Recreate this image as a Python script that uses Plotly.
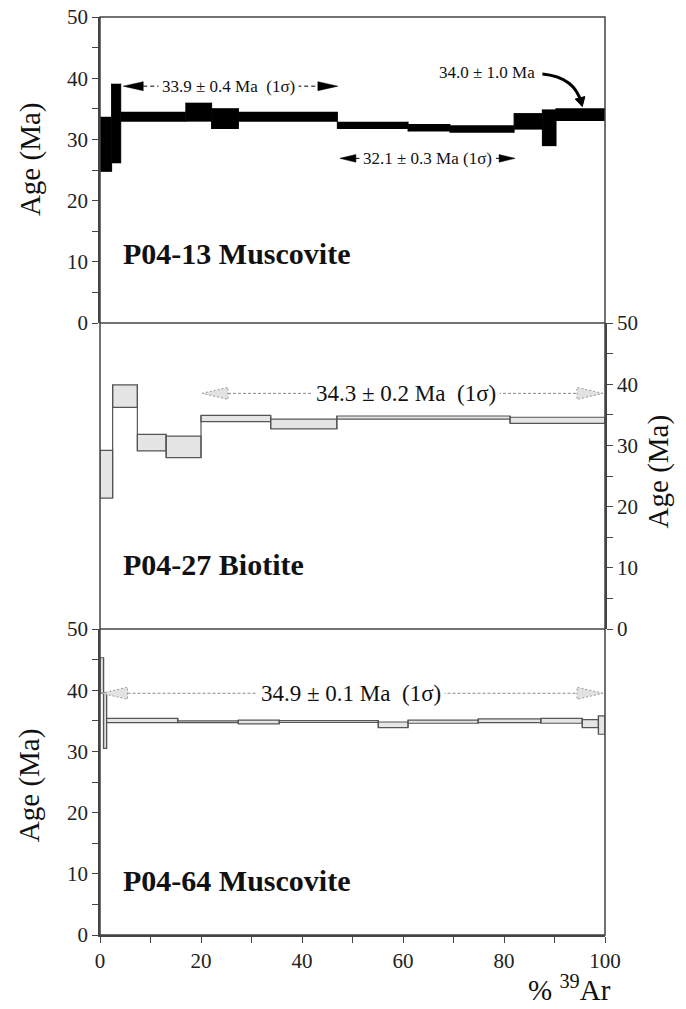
import plotly.graph_objects as go
import math

# ---------------- data ----------------
# cumulative % 39Ar step boundaries, step ages (Ma) and 1-sigma errors
p13_cum = [0, 2.3, 4.1, 17.0, 22.1, 27.4, 47.0, 61.0, 69.3, 82.0, 87.6, 90.3, 100]
p13_age = [29.2, 32.6, 33.7, 34.45, 33.4, 33.7, 32.3, 31.9, 31.7, 32.95, 31.9, 34.05]
p13_err = [4.5, 6.5, 0.8, 1.55, 1.7, 0.8, 0.6, 0.6, 0.6, 1.35, 3.0, 1.05]

p27_cum = [0, 2.5, 7.4, 13.1, 20.0, 33.8, 46.9, 81.2, 100]
p27_age = [25.3, 38.05, 30.45, 29.75, 34.4, 33.5, 34.55, 34.1]
p27_err = [3.9, 1.85, 1.35, 1.75, 0.5, 0.8, 0.25, 0.5]

p64_cum = [0, 0.7, 1.3, 15.4, 27.4, 35.5, 55.1, 61.0, 74.9, 87.3, 95.5, 98.7, 100]
p64_age = [42.4, 35.05, 35.05, 34.85, 34.8, 34.9, 34.35, 34.85, 35.0, 35.0, 34.55, 34.3]
p64_err = [2.9, 4.55, 0.35, 0.15, 0.3, 0.15, 0.45, 0.25, 0.3, 0.4, 0.65, 1.5]

sample_names = ["P04-13 Muscovite", "P04-27 Biotite", "P04-64 Muscovite"]

# plateau labels: text, x-from, x-to, y (Ma), label center x
p13_plat1 = ("33.9 ± 0.4 Ma  (1σ)", 4.6, 47.1, 38.7, 25.4)
p13_plat2 = ("32.1 ± 0.3 Ma (1σ)", 47.5, 82.2, 26.9, 64.8)
p13_note = "34.0 ± 1.0 Ma"
p27_plat = ("34.3 ± 0.2 Ma  (1σ)", 20.2, 99.6, 38.5, 60.5)
p64_plat = ("34.9 ± 0.1 Ma  (1σ)", 0.3, 99.6, 39.5, 49.8)

x_ticks = [0, 20, 40, 60, 80, 100]
y_ticks = [0, 10, 20, 30, 40, 50]

# ---------------- layout constants ----------------
W, H = 686, 1009
ML, MR, MT, MB = 100, 81, 17, 74
PW = W - ML - MR
PH = H - MT - MB
PX_PER_X = PW / 100.0
PX_PER_Y = (PH / 3.0) / 50.0
SERIF = "Liberation Serif"

fig = go.Figure()


def steps(cum, age, err, yaxis, fill, line, lw):
    xc = [(cum[i] + cum[i + 1]) / 2 for i in range(len(age))]
    wd = [cum[i + 1] - cum[i] for i in range(len(age))]
    base = [a - e for a, e in zip(age, err)]
    hgt = [2 * e for e in err]
    fig.add_trace(go.Bar(x=xc, y=hgt, base=base, width=wd, yaxis=yaxis,
                         marker=dict(color=fill, line=dict(color=line, width=lw)),
                         showlegend=False, hoverinfo="skip"))
    # vertical connectors between neighbouring steps
    cx, cy = [], []
    for i in range(1, len(age)):
        lo = min(age[i - 1] - err[i - 1], age[i] - err[i])
        hi = max(age[i - 1] + err[i - 1], age[i] + err[i])
        cx += [cum[i], cum[i], None]
        cy += [lo, hi, None]
    fig.add_trace(go.Scatter(x=cx, y=cy, yaxis=yaxis, mode="lines",
                             line=dict(color=line, width=max(lw, 1)),
                             showlegend=False, hoverinfo="skip"))


steps(p13_cum, p13_age, p13_err, "y", "black", "black", 0)
steps(p27_cum, p27_age, p27_err, "y2", "#e5e5e5", "#555555", 1.2)
steps(p64_cum, p64_age, p64_err, "y3", "#e5e5e5", "#555555", 1.2)

shapes = []
annotations = []


def tri(tipx, tipy, d, lpx, hpx, yref, fill, lcol, ldash=None, lw=1):
    dx = lpx / PX_PER_X
    dy = hpx / PX_PER_Y
    bx = tipx - d * dx
    path = f"M {tipx},{tipy} L {bx},{tipy + dy} L {bx},{tipy - dy} Z"
    ln = dict(color=lcol, width=lw)
    if ldash:
        ln["dash"] = ldash
    shapes.append(dict(type="path", path=path, xref="x", yref=yref,
                       fillcolor=fill, line=ln, layer="above"))
    return bx


def plateau(spec, yref, style, fsize, lpx, hpx):
    text, x0, x1, y, xc = spec
    if style == "black":
        b0 = tri(x0, y, -1, lpx, hpx, yref, "black", "black", lw=0.5)
        b1 = tri(x1, y, 1, lpx, hpx, yref, "black", "black", lw=0.5)
        lcol, dash, lw = "black", "4px,3px", 1
    else:
        b0 = tri(x0, y, -1, lpx, hpx, yref, "#e2e2e2", "#999999", "2px,2px", 1)
        b1 = tri(x1, y, 1, lpx, hpx, yref, "#e2e2e2", "#999999", "2px,2px", 1)
        lcol, dash, lw = "#888888", "3px,2px", 1
    shapes.append(dict(type="line", x0=b0, x1=b1, y0=y, y1=y, xref="x", yref=yref,
                       line=dict(color=lcol, dash=dash, width=lw), layer="above"))
    annotations.append(dict(text=text, x=xc, y=y, xref="x", yref=yref, showarrow=False,
                            font=dict(family=SERIF, size=fsize, color="#111"),
                            bgcolor="white", borderpad=3, xanchor="center", yanchor="middle"))


plateau(p13_plat1, "y", "black", 17, 20, 4.5)
plateau(p13_plat2, "y", "black", 17, 16, 3.8)
plateau(p27_plat, "y2", "grey", 23, 26, 6)
plateau(p64_plat, "y3", "grey", 23, 26, 6)

# curved arrow for the "34.0 ± 1.0 Ma" label
cx0, cy0 = 87.6, 40.7
cxc, cyc = 94.0, 40.2
cx1, cy1 = 95.3, 36.0
shapes.append(dict(type="path", path=f"M {cx0},{cy0} Q {cxc},{cyc} {cx1},{cy1}",
                   xref="x", yref="y", line=dict(color="black", width=3)))
tx = (cx1 - cxc) * PX_PER_X
ty = (cy1 - cyc) * PX_PER_Y
n = math.hypot(tx, ty)
ux, uy = tx / n, ty / n
L, Hh = 9, 5
tipx, tipy = cx1 + ux * 4 / PX_PER_X, cy1 + uy * 4 / PX_PER_Y
bxp, byp = -ux * L, -uy * L
px_, py_ = -uy * Hh, ux * Hh
p1 = (tipx + (bxp + px_) / PX_PER_X, tipy + (byp + py_) / PX_PER_Y)
p2 = (tipx + (bxp - px_) / PX_PER_X, tipy + (byp - py_) / PX_PER_Y)
shapes.append(dict(type="path", path=f"M {tipx},{tipy} L {p1[0]},{p1[1]} L {p2[0]},{p2[1]} Z",
                   xref="x", yref="y", fillcolor="black", line=dict(color="black", width=1)))
annotations.append(dict(text=p13_note, x=86.6, y=40.9, xref="x", yref="y", showarrow=False,
                        xanchor="right", yanchor="middle",
                        font=dict(family=SERIF, size=17, color="#111")))

# sample names
for name, yref, yy in zip(sample_names, ["y", "y2", "y3"], [11.3, 10.6, 8.9]):
    annotations.append(dict(text=f"<b>{name}</b>", x=4.2, y=yy, xref="x", yref=yref,
                            showarrow=False, xanchor="left", yanchor="middle",
                            font=dict(family=SERIF, size=30, color="#111")))

# axis titles
for xp, yp in [(-0.139, 0.845), (-0.139, 0.163), (1.105, 0.505)]:
    annotations.append(dict(text="Age (Ma)", x=xp, y=yp, xref="paper", yref="paper",
                            showarrow=False, textangle=-90, xanchor="center", yanchor="middle",
                            font=dict(family=SERIF, size=29, color="#111")))
annotations.append(dict(text="% <sup>39</sup>Ar", x=0.93, y=-0.058, xref="paper", yref="paper",
                        showarrow=False, xanchor="center", yanchor="middle",
                        font=dict(family=SERIF, size=29, color="#111")))

# frame and panel separators
frame = dict(color="#444444", width=1.5)
shapes.append(dict(type="rect", x0=0, x1=1, y0=0, y1=1, xref="paper", yref="paper",
                   line=frame, layer="above"))
for yy in [1 / 3, 2 / 3]:
    shapes.append(dict(type="line", x0=0, x1=1, y0=yy, y1=yy, xref="paper", yref="paper",
                       line=frame, layer="above"))

tickfont = dict(family=SERIF, size=21, color="#222")
yax_common = dict(range=[0, 50], tickvals=y_ticks, ticks="outside", ticklen=6, tickwidth=1.3,
                  tickcolor="#444", showline=True, linecolor="#444", linewidth=1.5,
                  showgrid=False, zeroline=False, tickfont=tickfont, fixedrange=True,
                  automargin=False, ticklabeloverflow="allow",
                  minor=dict(dtick=5, ticks="outside", ticklen=6, tickwidth=1.3, tickcolor="#444"))

fig.update_layout(
    width=W, height=H,
    margin=dict(l=ML, r=MR, t=MT, b=MB, autoexpand=False),
    paper_bgcolor="white", plot_bgcolor="white",
    barmode="overlay", showlegend=False,
    xaxis=dict(range=[0, 100], tickvals=x_ticks, anchor="y3", domain=[0, 1],
               ticks="outside", ticklen=6, tickwidth=1.3, tickcolor="#444",
               showline=True, linecolor="#444", linewidth=1.5, showgrid=False,
               zeroline=False, tickfont=tickfont, automargin=False, fixedrange=True,
               ticklabeloverflow="allow",
               minor=dict(dtick=10, ticks="outside", ticklen=6, tickwidth=1.3, tickcolor="#444")),
    yaxis=dict(domain=[2 / 3, 1], anchor="x", side="left", **yax_common),
    yaxis2=dict(domain=[1 / 3, 2 / 3], anchor="x", side="right", **yax_common),
    yaxis3=dict(domain=[0, 1 / 3], anchor="x", side="left", **yax_common),
    shapes=shapes, annotations=annotations,
)

# remove the default 8px page margin so the figure fills the window exactly
fig.write_html("out.html",
               config={"displayModeBar": False},
               post_script="document.body.style.margin='0px';document.body.style.overflow='hidden';")
